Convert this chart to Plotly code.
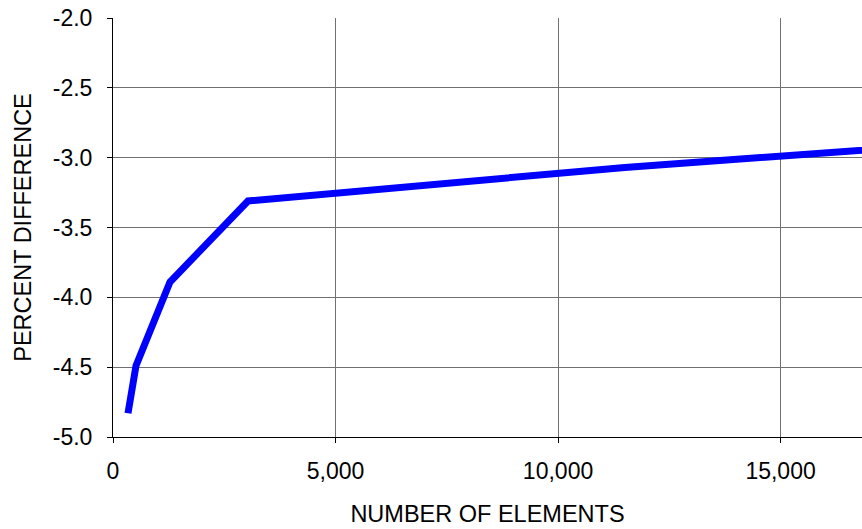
import plotly.graph_objects as go

elements = [337, 517, 1281, 3034, 11500, 24000]
percent_diff = [-4.83, -4.49, -3.89, -3.31, -3.07, -2.78]

x_tickvals = [0, 5000, 10000, 15000]
x_ticktext = ["0", "5,000", "10,000", "15,000"]
y_tickvals = [-5.0, -4.5, -4.0, -3.5, -3.0, -2.5, -2.0]
y_ticktext = ["-5.0", "-4.5", "-4.0", "-3.5", "-3.0", "-2.5", "-2.0"]

fig = go.Figure()
fig.add_trace(go.Scatter(
    x=elements, y=percent_diff, mode="lines",
    line=dict(color="#0000FF", width=7),
    showlegend=False,
))

font = dict(family="Liberation Sans, Arial, sans-serif", size=23, color="black")
title_font = dict(family="Liberation Sans, Arial, sans-serif", size=23.5, color="black")

fig.update_layout(
    width=862, height=529,
    margin=dict(l=113, r=0, t=18, b=92),
    paper_bgcolor="white", plot_bgcolor="white",
    font=font,
    xaxis=dict(
        range=[0, 16830], tickvals=x_tickvals, ticktext=x_ticktext,
        showgrid=True, gridcolor="#707070", gridwidth=1,
        showline=True, linecolor="black", linewidth=1,
        ticks="outside", ticklen=5, tickcolor="black",
        ticklabelstandoff=8,
        zeroline=False,
        title=dict(text="NUMBER OF ELEMENTS", font=title_font, standoff=22),
        tickfont=font,
    ),
    yaxis=dict(
        range=[-5.0, -2.0], tickvals=y_tickvals, ticktext=y_ticktext,
        showgrid=True, gridcolor="#707070", gridwidth=1,
        showline=True, linecolor="black", linewidth=1,
        ticks="outside", ticklen=5, tickcolor="black",
        ticklabelstandoff=10,
        zeroline=False,
        title=dict(text="PERCENT DIFFERENCE", font=title_font, standoff=14),
        tickfont=font,
    ),
)

fig.write_html(
    "out.html",
    config={"displayModeBar": False},
    post_script="document.body.style.margin='0px';document.body.style.overflow='hidden';",
)
